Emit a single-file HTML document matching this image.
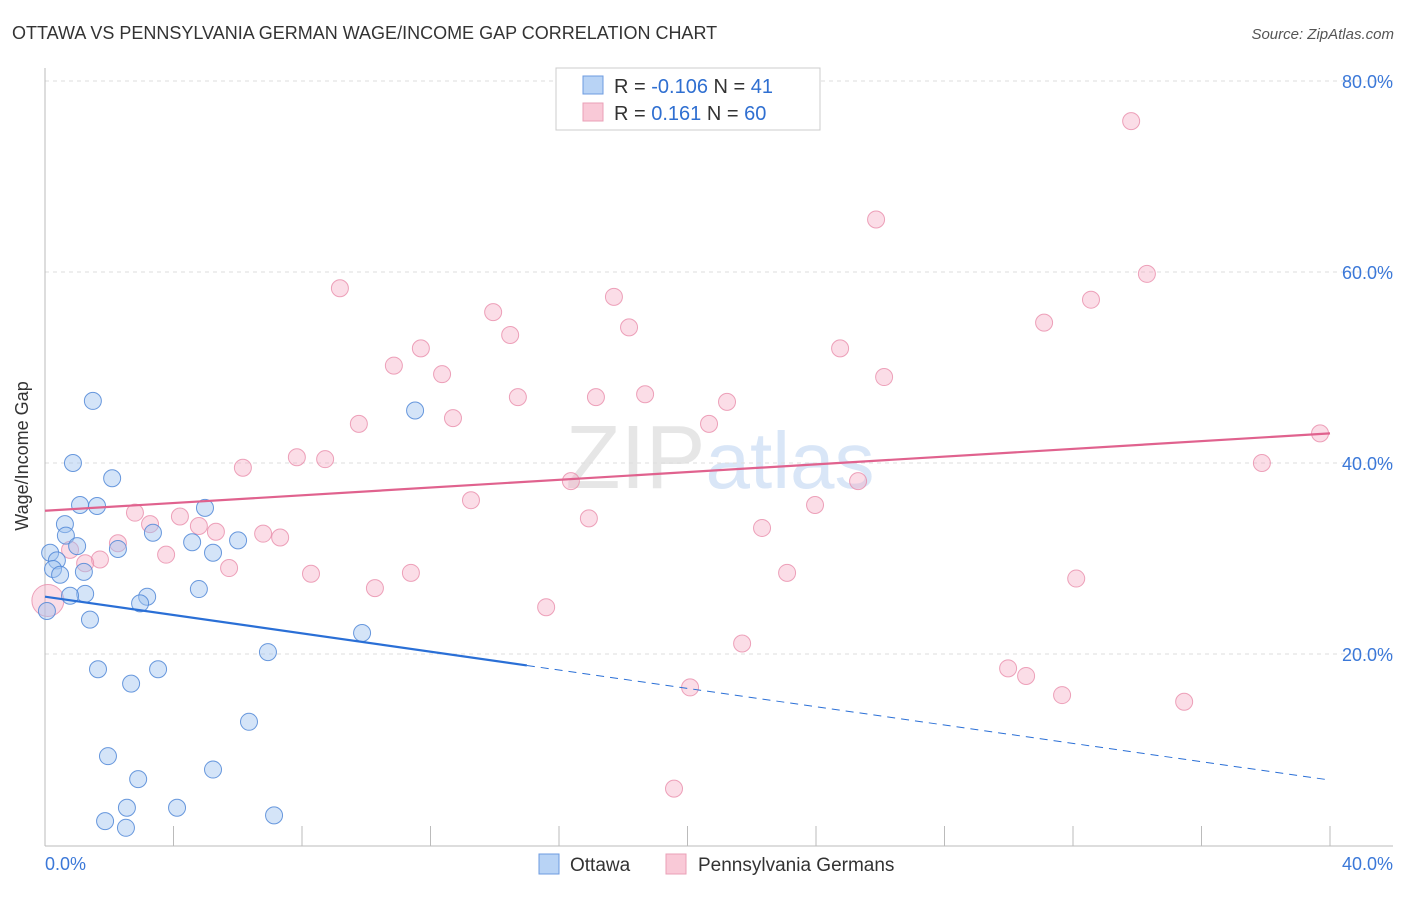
<!DOCTYPE html>
<html><head><meta charset="utf-8"><style>
body{margin:0;background:#fff;font-family:"Liberation Sans",sans-serif;}
svg text{font-family:"Liberation Sans",sans-serif;}
</style></head><body>
<svg id="chart" width="1406" height="892">
<text x="12" y="39" font-size="18" fill="#333">OTTAWA VS PENNSYLVANIA GERMAN WAGE/INCOME GAP CORRELATION CHART</text>
<text x="1394" y="39" font-size="15" fill="#555" text-anchor="end" font-style="italic">Source: ZipAtlas.com</text>
<text x="720" y="488" font-size="90" text-anchor="middle" fill="#e6e6e6" font-family="Liberation Serif">ZIP<tspan fill="#d9e6f7" font-family="Liberation Sans" font-size="80">atlas</tspan></text>
<g id="grid"></g>
<g id="axes"></g>
<g id="pts"></g>
<g id="trend"></g>
<text x="28" y="456" font-size="18" fill="#333" text-anchor="middle" transform="rotate(-90 28 456)">Wage/Income Gap</text>
<g>
<rect x="556" y="68" width="264" height="62" fill="#fff" stroke="#ccc"/>
<rect x="583" y="76" width="20" height="18" fill="#b8d3f5" stroke="#6d9be0"/>
<rect x="583" y="103" width="20" height="18" fill="#f9c9d7" stroke="#eaa0b7"/>
<text x="614" y="93" font-size="20" fill="#333">R = <tspan fill="#2f6fd1">-0.106</tspan>   N =  <tspan fill="#2f6fd1">41</tspan></text>
<text x="614" y="120" font-size="20" fill="#333">R =   <tspan fill="#2f6fd1">0.161</tspan>   N = <tspan fill="#2f6fd1">60</tspan></text>
</g>
<g>
<rect x="539" y="854" width="20" height="20" fill="#b8d3f5" stroke="#6d9be0"/>
<text x="570" y="871" font-size="19" fill="#333">Ottawa</text>
<rect x="666" y="854" width="20" height="20" fill="#f9c9d7" stroke="#eaa0b7"/>
<text x="698" y="871" font-size="19" fill="#333">Pennsylvania Germans</text>
</g>
</svg>
<script>
const yTicks=[20,40,60,80];
const yTickLabels=["20.0%","40.0%","60.0%","80.0%"];
const xLabels=["0.0%","40.0%"];
const ottawaX=[1.49,0.87,2.09,1.09,1.62,4.98,0.62,3.36,0.65,6.01,4.58,1.00,2.27,5.23,0.16,0.37,0.25,0.47,1.21,1.25,0.78,3.18,2.96,4.79,0.06,1.40,9.87,1.65,3.52,6.94,2.68,6.35,1.96,2.90,5.23,2.55,4.11,7.13,1.87,2.52,11.52];
const ottawaY=[46.5,40.0,38.4,35.6,35.5,35.3,33.6,32.7,32.4,31.9,31.7,31.3,31.0,30.6,30.6,29.8,28.9,28.3,28.6,26.3,26.1,26.0,25.3,26.8,24.5,23.6,22.2,18.4,18.4,20.2,16.9,12.9,9.3,6.9,7.9,3.9,3.9,3.1,2.5,1.8,45.5];
const pgX=[33.81,25.87,34.30,9.18,17.71,32.56,13.95,31.10,18.18,14.48,11.70,24.75,10.86,12.36,26.12,14.72,17.15,18.68,21.23,9.77,12.70,20.67,39.69,7.84,8.72,6.16,37.88,16.37,25.31,13.26,23.97,16.93,2.80,4.20,3.27,4.79,5.32,22.32,6.79,7.32,2.27,3.77,1.71,1.25,0.78,5.73,8.28,11.39,23.10,32.10,10.27,15.60,21.70,29.98,30.54,20.08,31.66,35.46,19.58,0.09];
const pgY=[75.8,65.5,59.8,58.3,57.4,57.1,55.8,54.7,54.2,53.4,52.0,52.0,50.2,49.3,49.0,46.9,46.9,47.2,46.4,44.1,44.7,44.1,43.1,40.6,40.4,39.5,40.0,38.1,38.1,36.1,35.6,34.2,34.8,34.4,33.6,33.4,32.8,33.2,32.6,32.2,31.6,30.4,29.9,29.5,30.9,29.0,28.4,28.5,28.5,27.9,26.9,24.9,21.1,18.5,17.7,16.5,15.7,15.0,5.9,25.6];
const ottawaTrend=[26.0,6.8];
const pgTrend=[35.0,43.1];
const NS="http://www.w3.org/2000/svg";
const X=v=>45+v/40*1285, Y=v=>845-v/20*191;
function mk(p,t,a){const e=document.createElementNS(NS,t);for(const k in a)e.setAttribute(k,a[k]);p.appendChild(e);return e;}
const grid=document.getElementById('grid'),axes=document.getElementById('axes'),pts=document.getElementById('pts'),tr=document.getElementById('trend');
yTicks.forEach((t,i)=>{
 const l=mk(grid,'line',{x1:45,x2:1393,y1:Y(t),y2:Y(t),stroke:'#ddd','stroke-dasharray':'4,4'});
 
 
 const tx=mk(axes,'text',{x:1393,y:Y(t)+7,'font-size':18,fill:'#3b78d8','text-anchor':'end'});
 tx.textContent=yTickLabels[i];
 
 
});
mk(axes,'line',{x1:45,x2:45,y1:68,y2:846,stroke:'#bbb'});
mk(axes,'line',{x1:45,x2:1393,y1:846,y2:846,stroke:'#bbb'});
for(let i=0;i<=10;i++){mk(axes,'line',{x1:X(i*4),x2:X(i*4),y1:826,y2:846,stroke:'#bbb'});}
const xl0=mk(axes,'text',{x:45,y:870,'font-size':18,fill:'#3b78d8'});xl0.textContent=xLabels[0];


const xl1=mk(axes,'text',{x:1393,y:870,'font-size':18,fill:'#3b78d8','text-anchor':'end'});xl1.textContent=xLabels[1];


pgX.forEach((x,i)=>{
 const r=(i===pgX.length-1)?16:8.5;
 const c=mk(pts,'circle',{cx:X(x),cy:Y(pgY[i]),r:r,fill:'rgba(245,170,195,0.4)',stroke:'rgba(232,140,170,0.8)','stroke-width':1});
 
 
});
ottawaX.forEach((x,i)=>{
 const c=mk(pts,'circle',{cx:X(x),cy:Y(ottawaY[i]),r:8.5,fill:'rgba(160,196,240,0.45)',stroke:'rgba(80,135,215,0.85)','stroke-width':1});
 
 
});
const bAt=v=>ottawaTrend[0]+(ottawaTrend[1]-ottawaTrend[0])*v/40;
const l1=mk(tr,'line',{x1:X(0),y1:Y(bAt(0)),x2:X(15),y2:Y(bAt(15)),stroke:'#2a6fd6','stroke-width':2.2});


const l2=mk(tr,'line',{x1:X(15),y1:Y(bAt(15)),x2:X(40),y2:Y(bAt(40)),stroke:'#2a6fd6','stroke-width':1,'stroke-dasharray':'8,6'});


const l3=mk(tr,'line',{x1:X(0),y1:Y(pgTrend[0]),x2:X(40),y2:Y(pgTrend[1]),stroke:'#e0628e','stroke-width':2.2});


</script>
</body></html>
